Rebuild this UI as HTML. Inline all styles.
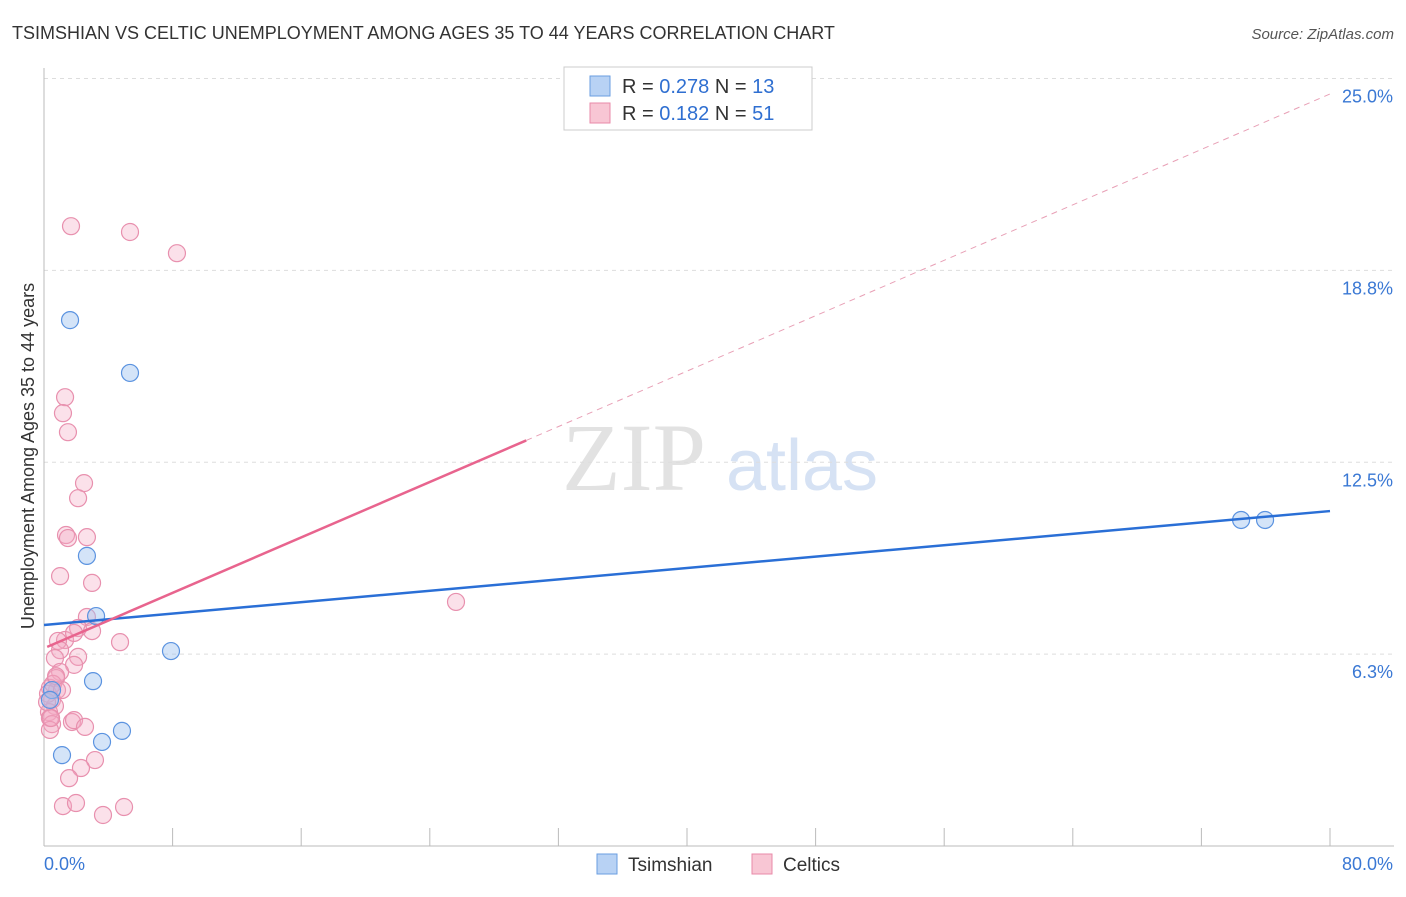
<!DOCTYPE html>
<html><head><meta charset="utf-8"><style>
body{margin:0;background:#fff;font-family:"Liberation Sans",sans-serif}
</style></head><body>
<svg width="1406" height="892" xmlns="http://www.w3.org/2000/svg" id="chart">
<text x="12" y="39" font-size="18" fill="#333">TSIMSHIAN VS CELTIC UNEMPLOYMENT AMONG AGES 35 TO 44 YEARS CORRELATION CHART</text>
<text x="1394" y="39" font-size="15" fill="#555" font-style="italic" text-anchor="end">Source: ZipAtlas.com</text>
<text x="634" y="490" font-size="96" fill="#e2e2e2" font-family="Liberation Serif" text-anchor="middle">ZIP</text>
<text x="802" y="490" font-size="72" fill="#d6e2f4" text-anchor="middle">atlas</text>
<text transform="translate(34,456) rotate(-90)" font-size="18" fill="#333" text-anchor="middle">Unemployment Among Ages 35 to 44 years</text>
<g id="grid"></g><g id="axes"></g><g id="marks"></g>
<g>
<rect x="564" y="67" width="248" height="63" fill="#fff" stroke="#ccc"/>
<rect x="590" y="76" width="20" height="20" fill="#b8d2f4" stroke="#6a9ee0"/>
<text x="622" y="93" font-size="20" fill="#333">R = <tspan fill="#2f6fd1">0.278</tspan>   N = <tspan fill="#2f6fd1">13</tspan></text>
<rect x="590" y="103" width="20" height="20" fill="#f8c6d4" stroke="#e88aa8"/>
<text x="622" y="120" font-size="20" fill="#333">R =  <tspan fill="#2f6fd1">0.182</tspan>   N = <tspan fill="#2f6fd1">51</tspan></text>
</g>
<g>
<rect x="597" y="854" width="20" height="20" fill="#b8d2f4" stroke="#6a9ee0"/>
<text x="628" y="871" font-size="19" fill="#333">Tsimshian</text>
<rect x="752" y="854" width="20" height="20" fill="#f8c6d4" stroke="#e88aa8"/>
<text x="783" y="871" font-size="19" fill="#333">Celtics</text>
</g>
</svg>
<script>
const yTicks=[25.0,18.75,12.5,6.25];
const yTickLabels=["25.0%","18.8%","12.5%","6.3%"];
const xTickLabels=["0.0%","80.0%"];
const tsX=[1.62,5.35,2.67,3.24,7.90,3.05,1.12,3.61,4.85,74.47,75.96,0.5,0.37];
const tsY=[17.13,15.41,9.45,7.49,6.35,5.37,2.96,3.39,3.75,10.62,10.62,5.08,4.76];
const ceX=[1.68,5.35,8.27,1.31,1.18,1.49,2.49,2.12,1.37,1.49,2.67,1.0,2.99,25.63,2.67,2.12,2.99,4.73,1.31,0.87,1.87,1.0,2.12,0.68,1.87,1.0,0.75,0.37,0.81,0.5,0.68,0.31,0.37,0.5,0.37,1.74,1.87,2.55,3.17,2.30,1.56,1.18,1.99,3.67,4.98,0.25,0.56,1.12,0.75,0.44,0.19];
const ceY=[20.19,20.0,19.31,14.62,14.10,13.48,11.82,11.33,10.13,10.03,10.06,8.79,8.57,7.95,7.46,7.10,7.00,6.64,6.71,6.68,6.94,6.38,6.16,6.12,5.90,5.67,5.47,5.15,5.08,4.76,4.56,4.36,4.17,3.97,3.78,4.04,4.10,3.88,2.80,2.54,2.21,1.30,1.40,1.01,1.27,4.96,5.28,5.08,5.53,4.17,4.69];
const tsLine=[7.20,10.91];
const ceLine=[6.44,0.2257];
const NS="http://www.w3.org/2000/svg";
const X=v=>44+v/80*1286, Y=v=>846-v*30.7;
function mk(p,t,a){const e=document.createElementNS(NS,t);for(const k in a)e.setAttribute(k,a[k]);document.getElementById(p).appendChild(e);return e;}
yTicks.forEach((t,i)=>{
 const g=mk('grid','line',{x1:44,x2:1394,y1:Y(t),y2:Y(t),stroke:'#ddd','stroke-dasharray':'4,4'});
 
 
 const l=mk('grid','text',{x:1393,y:Y(t)+24,'font-size':18,fill:'#3a78d4','text-anchor':'end'});
 l.textContent=yTickLabels[i];
 
 
});
let a=mk('axes','line',{x1:44,x2:44,y1:68,y2:846,stroke:'#bbb'});


a=mk('axes','line',{x1:44,x2:1394,y1:846,y2:846,stroke:'#bbb'});


for(let i=0;i<=10;i++){const t=mk('axes','line',{x1:X(i*8),x2:X(i*8),y1:828,y2:846,stroke:'#bbb'});
 
 }
[[0,44,'start'],[80,1393,'end']].forEach((d,i)=>{const t=mk('axes','text',{x:d[1],y:870,'font-size':18,fill:'#3a78d4','text-anchor':d[2]});t.textContent=xTickLabels[i];
 
 });
ceX.forEach((x,i)=>{const c=mk('marks','circle',{cx:X(x),cy:Y(ceY[i]),r:8.5,fill:'rgba(244,170,195,0.35)',stroke:'#e890ae','stroke-width':1.2});
 
 });
tsX.forEach((x,i)=>{const c=mk('marks','circle',{cx:X(x),cy:Y(tsY[i]),r:8.5,fill:'rgba(160,195,240,0.45)',stroke:'#5b93e0','stroke-width':1.2});
 
 });
let l=mk('marks','line',{x1:X(0),y1:Y(tsLine[0]),x2:X(80),y2:Y(tsLine[1]),stroke:'#2a6fd6','stroke-width':2.5});


l=mk('marks','line',{x1:X(0.2),y1:Y(ceLine[0]+ceLine[1]*0.2),x2:X(30),y2:Y(ceLine[0]+ceLine[1]*30),stroke:'#e8648e','stroke-width':2.5});


l=mk('marks','line',{x1:X(30),y1:Y(ceLine[0]+ceLine[1]*30),x2:X(80),y2:Y(ceLine[0]+ceLine[1]*80),stroke:'#e8a0b6','stroke-width':1,'stroke-dasharray':'6,5'});


</script>
</body></html>
